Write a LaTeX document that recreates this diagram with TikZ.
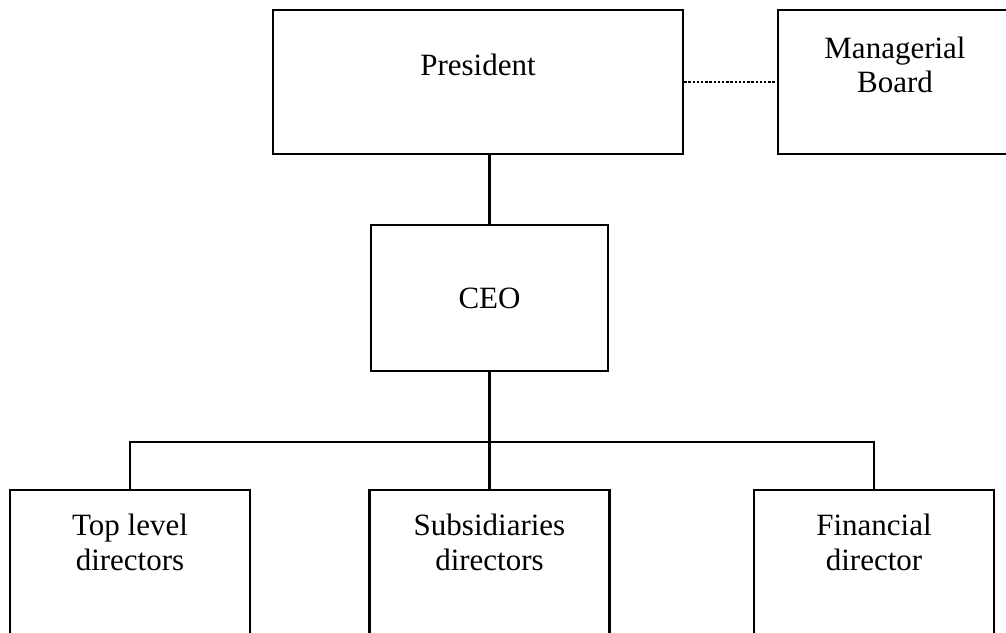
\documentclass[tikz,border=0pt]{standalone}
\usepackage{fontspec}
\setmainfont{Liberation Serif}
\usepackage{tikz}
\usetikzlibrary{positioning}

\tikzset{
	orgbox/.style={draw,line width=2.4pt,align=center,inner sep=0pt,
		font=\fontsize{31}{35}\selectfont},
	orgline/.style={line width=2.4pt},
	boardline/.style={line width=2.4pt,dash pattern=on 2.4pt off 1.8pt}
}

\begin{document}
\begin{tikzpicture}[x=1pt,y=-1pt]
	\useasboundingbox (0,0) rectangle (1006,632);
	\clip (0,0) rectangle (1006,632);
	\node[orgbox,minimum width=410pt,minimum height=144pt] (president) at (478,82)
		{President\\ \mbox{}};
	\node[orgbox,minimum width=234pt,minimum height=144pt] (board) at (895,82)
		{Managerial\\[-1pt] Board\\ \mbox{}};
	\node[orgbox,minimum width=237pt,minimum height=146pt] (ceo) at (489.5,298)
		{CEO};
	\coordinate (bus) at (489.5,442);
	\node[orgbox,minimum width=240pt,minimum height=146pt] (topdir) at (130,563)
		{Top level\\ directors\\[6pt] \mbox{}};
	\node[orgbox,minimum width=240pt,minimum height=146pt] (subsdir) at (489.5,563)
		{Subsidiaries\\ directors\\[6pt] \mbox{}};
	\node[orgbox,minimum width=240pt,minimum height=146pt] (findir) at (874,563)
		{Financial\\ director\\[6pt] \mbox{}};
	\draw[boardline] (president.east) -- (board.west);
	\draw[orgline] (president.south -| ceo.north) -- (ceo.north);
	\draw[orgline] (ceo.south) -- (bus);
	\draw[orgline] (topdir.north) |- (bus) -| (findir.north);
	\draw[orgline] (subsdir.north) -- (bus);
\end{tikzpicture}
\end{document}
